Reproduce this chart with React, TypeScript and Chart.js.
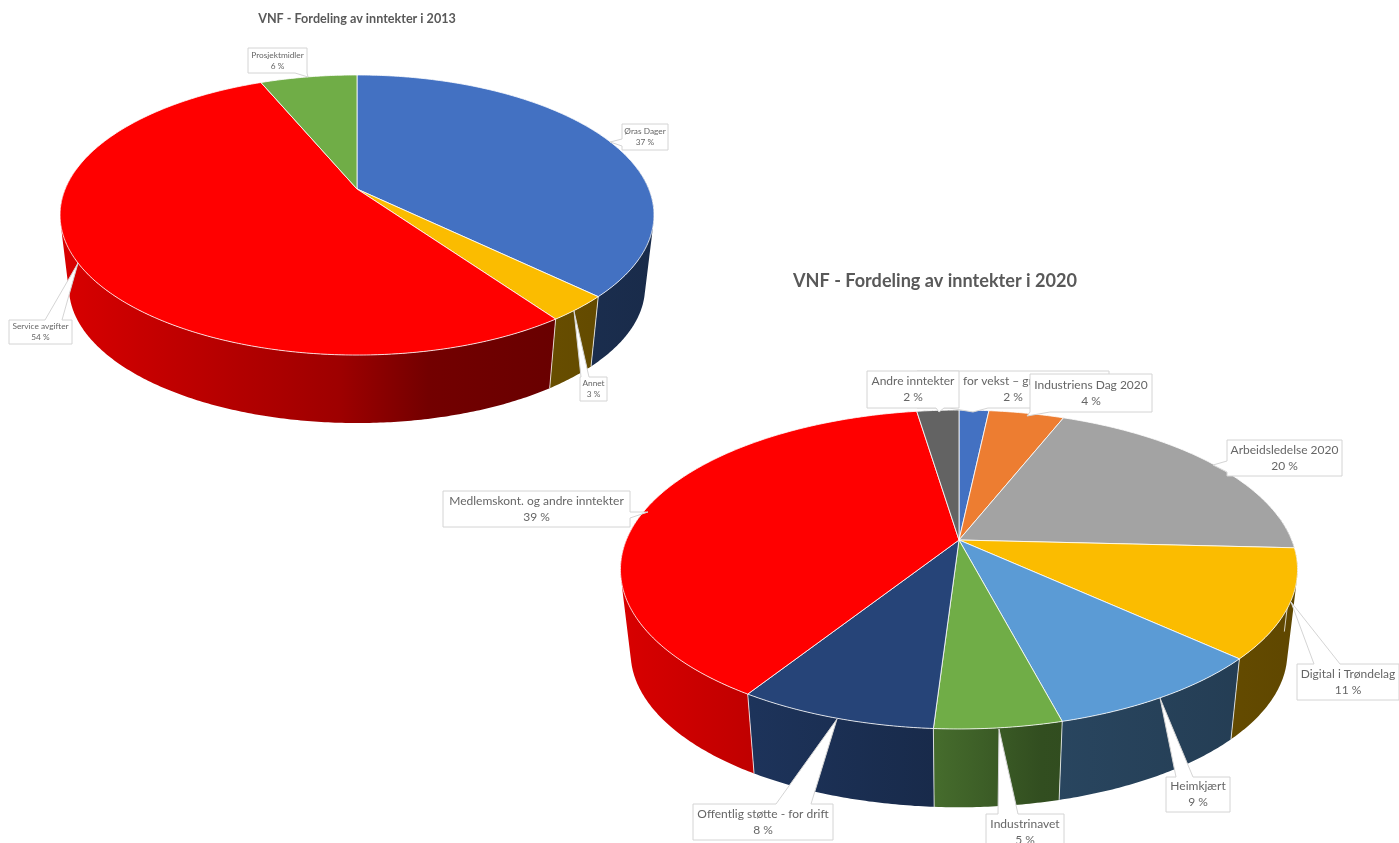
import React, { useEffect, useRef } from "react";
import { Chart, registerables } from "chart.js";

Chart.register(...registerables);

const categories2013 = ["Øras Dager", "Annet", "Service avgifter", "Prosjektmidler"];
const values2013 = [37.2, 3.0, 53.5, 6.3];
const colors2013 = ["#4371C2", "#FBBC00", "#FF0000", "#70AD47"];

const categories2020 = [
  "for vekst – gr",
  "Industriens Dag 2020",
  "Arbeidsledelse 2020",
  "Digital i Trøndelag",
  "Heimkjært",
  "Industrinavet",
  "Offentlig støtte - for drift",
  "Medlemskont. og andre inntekter",
  "Andre inntekter",
];
const values2020 = [1.7, 4.3, 19.8, 11, 9.1, 5.1, 8, 38.6, 2.4];
const colors2020 = ["#4371C2", "#ED7D31", "#A3A3A3", "#FBBC00", "#5B9BD5", "#70AD47", "#264478", "#FF0000", "#636363"];

const FONT = "Lato, Carlito, sans-serif";
const TEXT = "#666666";

// Callouts, in page pixels: box, pointer tip, side and extent of pointer base.
type Callout = { i: number; box: number[]; tip: number[]; side: string; base: number[]; textX?: number; pctX?: number };

const callouts2013: Callout[] = [
  { i: 3, box: [248, 48, 59, 25], tip: [308, 77], side: "bottom", base: [295, 307] },
  { i: 0, box: [622, 124, 46, 26], tip: [610, 142], side: "left", base: [139, 146] },
  { i: 1, box: [580, 377, 27, 24], tip: [574, 311], side: "top", base: [581, 589] },
  { i: 2, box: [9, 320, 63, 24], tip: [78, 263], side: "top", base: [45, 62] },
];

const callouts2020: Callout[] = [
  { i: 0, box: [917, 371, 192, 37], tip: [973, 412], side: "bottom", base: [949, 988], textX: 998, pctX: 1013 },
  { i: 8, box: [867, 371, 92, 37], tip: [939, 412], side: "bottom", base: [936, 944] },
  { i: 1, box: [1030, 374, 122, 38], tip: [1027, 416], side: "bottom", base: [1030, 1050] },
  { i: 2, box: [1227, 440, 115, 36], tip: [1213, 465], side: "left", base: [461, 472] },
  { i: 3, box: [1297, 664, 102, 36], tip: [1291, 602], side: "top", base: [1314, 1340] },
  { i: 4, box: [1166, 777, 64, 35], tip: [1160, 698], side: "top", base: [1176, 1193] },
  { i: 5, box: [986, 814, 78, 36], tip: [999, 729], side: "top", base: [998, 1018] },
  { i: 6, box: [693, 804, 140, 36], tip: [837, 719], side: "top", base: [776, 811] },
  { i: 7, box: [443, 491, 187, 36], tip: [648, 512], side: "right", base: [512, 518] },
];

// shade of the side wall across the width of the pie
const SHADE = [[0, 0.85], [0.2, 0.75], [0.47, 0.62], [0.62, 0.45], [1, 0.38]];

function scaleColor(hex: string, f: number) {
  const n = parseInt(hex.slice(1), 16);
  const c = [(n >> 16) & 255, (n >> 8) & 255, n & 255].map((v) => Math.round(v * f));
  return `rgb(${c[0]},${c[1]},${c[2]})`;
}

const pie3d = {
  id: "pie3d",
  beforeDatasetsDraw(chart: any, _args: any, o: any) {
    const ctx = chart.ctx;
    const arcs = chart.getDatasetMeta(0).data;
    const colors = chart.data.datasets[0].backgroundColor;
    const g = o.geo;
    const top = (a: number) => {
      const w = 1 - g.k * Math.sin(a);
      return [g.cx + (g.B * Math.cos(a)) / w, g.cy + (g.A * Math.sin(a)) / w];
    };
    const low = (a: number) => {
      const p = top(a);
      return [g.cx + (p[0] - g.cx) * g.s, g.cy + g.dy + (p[1] - g.cy) * g.s];
    };
    const left = g.cx - g.B * 1.02;
    const right = g.cx + g.B * 1.02;

    ctx.save();
    ctx.translate(-o.left, -o.top);

    // side walls: one path of small same-winding quads, so the silhouette is filled without seams
    arcs.forEach((arc: any, i: number) => {
      const a0 = Math.max(arc.startAngle, -0.15);
      const a1 = Math.min(arc.endAngle, Math.PI + 0.15);
      if (a1 <= a0) return;
      const grad = ctx.createLinearGradient(left, 0, right, 0);
      SHADE.forEach(([t, f]) => grad.addColorStop(t, scaleColor(colors[i], f)));
      const n = Math.ceil((a1 - a0) / 0.01);
      ctx.beginPath();
      for (let j = 0; j < n; j++) {
        const s = a0 + ((a1 - a0) * j) / n;
        const e = a0 + ((a1 - a0) * (j + 1)) / n;
        let quad = [top(s), top(e), low(e), low(s)];
        let area = 0;
        quad.forEach((p, m) => {
          const q = quad[(m + 1) % 4];
          area += p[0] * q[1] - q[0] * p[1];
        });
        if (area < 0) quad = quad.reverse();
        quad.forEach((p, m) => (m ? ctx.lineTo(p[0], p[1]) : ctx.moveTo(p[0], p[1])));
        ctx.closePath();
      }
      ctx.fillStyle = grad;
      ctx.fill();
    });
    // wall seams
    arcs.forEach((arc: any) => {
      const a = arc.startAngle;
      if (Math.sin(a) <= 0) return;
      const p = top(a);
      const q = low(a);
      ctx.beginPath();
      ctx.moveTo(p[0], p[1]);
      ctx.lineTo(q[0], q[1]);
      ctx.strokeStyle = "rgba(255,255,255,0.75)";
      ctx.lineWidth = 1;
      ctx.stroke();
    });
    // top faces
    arcs.forEach((arc: any, i: number) => {
      const n = Math.ceil((arc.endAngle - arc.startAngle) / 0.01);
      ctx.beginPath();
      ctx.moveTo(g.cx, g.cy);
      for (let j = 0; j <= n; j++) {
        const p = top(arc.startAngle + ((arc.endAngle - arc.startAngle) * j) / n);
        ctx.lineTo(p[0], p[1]);
      }
      ctx.closePath();
      ctx.fillStyle = colors[i];
      ctx.fill();
      ctx.strokeStyle = "rgba(255,255,255,0.8)";
      ctx.lineWidth = 1;
      ctx.stroke();
    });

    // callouts
    const values = chart.data.datasets[0].data;
    const total = values.reduce((s: number, v: number) => s + v, 0);
    o.callouts.forEach((c: Callout) => {
      const [x, y, w, h] = c.box;
      const [b0, b1] = c.base;
      ctx.beginPath();
      ctx.moveTo(x, y);
      if (c.side === "top") { ctx.lineTo(b0, y); ctx.lineTo(c.tip[0], c.tip[1]); ctx.lineTo(b1, y); }
      ctx.lineTo(x + w, y);
      if (c.side === "right") { ctx.lineTo(x + w, b0); ctx.lineTo(c.tip[0], c.tip[1]); ctx.lineTo(x + w, b1); }
      ctx.lineTo(x + w, y + h);
      if (c.side === "bottom") { ctx.lineTo(b1, y + h); ctx.lineTo(c.tip[0], c.tip[1]); ctx.lineTo(b0, y + h); }
      ctx.lineTo(x, y + h);
      if (c.side === "left") { ctx.lineTo(x, b1); ctx.lineTo(c.tip[0], c.tip[1]); ctx.lineTo(x, b0); }
      ctx.closePath();
      ctx.fillStyle = "#fff";
      ctx.fill();
      ctx.strokeStyle = "#d4d4d4";
      ctx.lineWidth = 1;
      ctx.stroke();

      ctx.fillStyle = TEXT;
      ctx.font = `${o.labelSize}px ${FONT}`;
      ctx.textAlign = "center";
      ctx.textBaseline = "middle";
      const mid = y + h / 2;
      const cxText = x + w / 2;
      ctx.fillText(chart.data.labels[c.i], c.textX ?? cxText, mid - o.lineGap / 2);
      ctx.fillText(`${Math.round((values[c.i] / total) * 100)} %`, c.pctX ?? cxText, mid + o.lineGap / 2);
    });
    ctx.restore();
    return false;
  },
};

function usePie(
  ref: React.RefObject<HTMLCanvasElement | null>,
  labels: string[],
  data: number[],
  colors: string[],
  title: string,
  titleSize: number,
  opts: any
) {
  useEffect(() => {
    const chart = new Chart(ref.current as HTMLCanvasElement, {
      type: "pie",
      data: { labels, datasets: [{ data, backgroundColor: colors }] },
      plugins: [pie3d],
      options: {
        responsive: false,
        animation: false,
        events: [],
        plugins: {
          legend: { display: false },
          tooltip: { enabled: false },
          title: {
            display: true,
            text: title,
            color: "#595959",
            font: { family: FONT, size: titleSize, weight: "bold" },
            padding: { top: opts.titlePad, bottom: 4 },
          },
          pie3d: opts,
        },
      } as any,
    });
    return () => chart.destroy();
  }, []);
}

export default function App() {
  const a = useRef<HTMLCanvasElement>(null);
  const b = useRef<HTMLCanvasElement>(null);
  usePie(a, categories2013, values2013, colors2013, "VNF - Fordeling av inntekter i 2013", 12.6, {
    left: 0, top: 0, titlePad: 11, labelSize: 8.3, lineGap: 11,
    geo: { cx: 357, cy: 189, A: 135.2, B: 291.8, k: 0.1857, s: 0.97, dy: 73 },
    callouts: callouts2013,
  });
  usePie(b, categories2020, values2020, colors2020, "VNF - Fordeling av inntekter i 2020", 18.1, {
    left: 400, top: 260, titlePad: 10.5, labelSize: 12, lineGap: 16,
    geo: { cx: 959, cy: 540, A: 154, B: 332.7, k: 0.185, s: 0.97, dy: 84 },
    callouts: callouts2020,
  });
  return (
    <div style={{ position: "fixed", left: 0, top: 0, width: 1399, height: 843, overflow: "hidden", background: "#fff" }}>
      <canvas ref={a} width={714} height={430} style={{ position: "absolute", left: 0, top: 0 }} />
      <canvas ref={b} width={1070} height={583} style={{ position: "absolute", left: 400, top: 260 }} />
    </div>
  );
}
